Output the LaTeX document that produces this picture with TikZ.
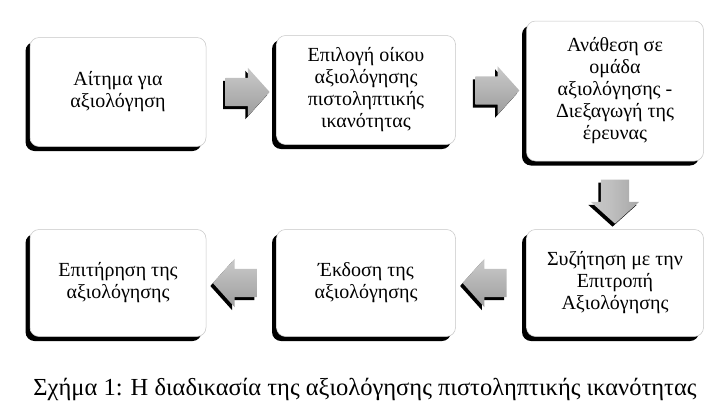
\documentclass[tikz,border=0pt]{standalone}
\usepackage{fontspec}
\setmainfont{Liberation Serif}
\usetikzlibrary{shapes.arrows,shadows,calc}
\pgfdeclareverticalshading{boxshade}{100bp}{color(0bp)=(gray!80); color(8bp)=(gray!40); color(22bp)=(white); color(88bp)=(white); color(100bp)=(gray!25)}
\pgfdeclareverticalshading{arrshade}{100bp}{color(0bp)=(gray!90); color(35bp)=(gray!70); color(70bp)=(gray!45); color(100bp)=(gray!60)}
\pgfdeclarehorizontalshading{arrshadeh}{100bp}{color(0bp)=(gray!35); color(45bp)=(gray!50); color(100bp)=(gray!85)}
\tikzset{
  stepbox/.style={rounded corners=9pt, shading=boxshade, draw=gray!45, line width=0.5pt,
    drop shadow={shadow xshift=-4.5pt, shadow yshift=-4.5pt, fill=black, opacity=1},
    align=center, font=\fontsize{20}{22}\selectfont, inner sep=2pt},
  blockarr/.style={single arrow, shading=arrshade, draw=none, minimum height=44pt,
    inner xsep=0pt, inner ysep=14pt, single arrow head extend=10pt, single arrow tip angle=96,
    drop shadow={shadow xshift=-2.5pt, shadow yshift=-3pt, fill=black, opacity=1}},
  caption/.style={font=\fontsize{24.5}{26}\selectfont}
}
\begin{document}
\begin{tikzpicture}[x=1pt,y=-1pt]
\useasboundingbox (0,0) rectangle (718,405);
\node[stepbox, minimum width=176pt, minimum height=109pt] (b1) at (118,92) {Αίτημα για\\αξιολόγηση};
\node[stepbox, minimum width=179pt, minimum height=109pt] (b2) at (366,90) {Επιλογή οίκου\\αξιολόγησης\\πιστοληπτικής\\ικανότητας};
\node[stepbox, minimum width=177pt, minimum height=140pt] (b3) at (615,91) {Ανάθεση σε\\ομάδα\\αξιολόγησης -\\Διεξαγωγή της\\έρευνας};
\node[stepbox, minimum width=176pt, minimum height=107pt] (b4) at (118,283) {Επιτήρηση της\\αξιολόγησης};
\node[stepbox, minimum width=179pt, minimum height=107pt] (b5) at (366,283) {Έκδοση της\\αξιολόγησης};
\node[stepbox, minimum width=177pt, minimum height=107pt] (b6) at (615,283) {Συζήτηση με την\\Επιτροπή\\Αξιολόγησης};
\node[blockarr] (a1) at ($(b1.east)!0.5!(b2.west)+(0,1)$) {};
\node[blockarr] (a2) at ($(b2.east)!0.5!(b3.west)+(0,0)$) {};
\node[blockarr, shape border rotate=270, shading=arrshadeh, inner xsep=14pt, inner ysep=0pt] (a3) at ($(b3.south)!0.5!(b6.north)$) {};
\node[blockarr, shape border rotate=180] (a4) at ($(b6.west)!0.5!(b5.east)$) {};
\node[blockarr, shape border rotate=180] (a5) at ($(b5.west)!0.5!(b4.east)$) {};
\node[caption] (cap) at (365,389) {Σχήμα 1: Η διαδικασία της αξιολόγησης πιστοληπτικής ικανότητας};
\end{tikzpicture}
\end{document}
